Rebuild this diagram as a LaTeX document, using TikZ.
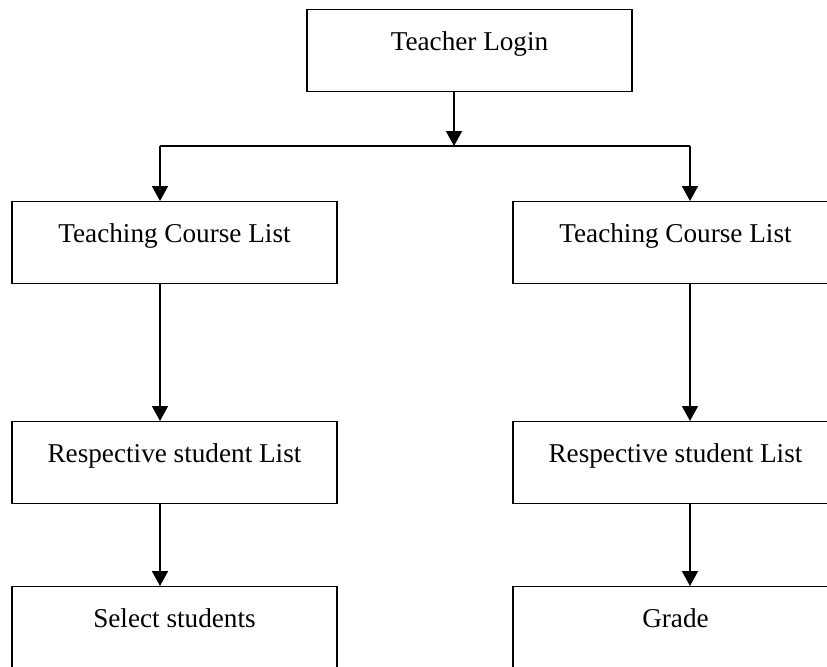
\documentclass[tikz,border=0pt]{standalone}
\usepackage{fontspec}
\setmainfont{Liberation Serif}
\usetikzlibrary{arrows.meta}
\begin{document}
\begin{tikzpicture}[x=0.5pt, y=-0.5pt,
		box/.style={draw, line width=0.65pt, rectangle, anchor=north, minimum width=162.5pt, inner xsep=0pt, inner ysep=0pt, text height=20.5pt, text depth=20.5pt, font=\fontsize{13.6}{16}\selectfont},
		arr/.style={line width=0.9pt, -{Triangle[length=7.5pt, width=8pt]}}]
	\useasboundingbox (0,0) rectangle (827,666);
	\clip (0,0) rectangle (827,666);
	\node[box] (login) at (469.5,9) {Teacher Login};
	\node[box] (course1) at (174.5,201) {Teaching Course List};
	\node[box] (course2) at (675.5,201) {Teaching Course List};
	\node[box] (student1) at (174.5,421) {Respective student List};
	\node[box] (student2) at (675.5,421) {Respective student List};
	\node[box] (select) at (174.5,586) {Select students};
	\node[box] (grade) at (675.5,586) {Grade};
	\coordinate (joint) at (454,146);
	\coordinate (jleft) at (160,146);
	\coordinate (jright) at (690,146);
	\draw[arr] (login.south -| joint) -- (joint);
	\draw[line width=0.55pt] (jleft) -- (jright);
	\draw[arr] (jleft) -- (jleft |- course1.north);
	\draw[arr] (jright) -- (jright |- course2.north);
	\draw[arr] (course1.south -| jleft) -- (student1.north -| jleft);
	\draw[arr] (course2.south -| jright) -- (student2.north -| jright);
	\draw[arr] (student1.south -| jleft) -- (select.north -| jleft);
	\draw[arr] (student2.south -| jright) -- (grade.north -| jright);
\end{tikzpicture}
\end{document}
